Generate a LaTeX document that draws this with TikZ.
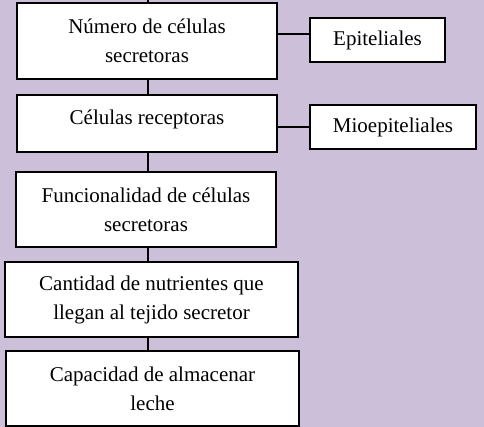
\documentclass[tikz,border=0pt]{standalone}
\usepackage{fontspec}
\setmainfont{Liberation Serif}
\definecolor{lila}{RGB}{204,191,218}

\tikzset{
  caja/.style={draw, fill=white, line width=1.1pt, align=center, inner sep=0pt,
    font=\fontsize{21}{29}\selectfont},
  enlace/.style={line width=1.6pt}
}

\begin{document}
\begin{tikzpicture}[x=1pt, y=-1pt]
            \fill[lila] (0,0) rectangle (484,427);
            \useasboundingbox (0,0) rectangle (484,427);
            \coordinate (eje) at (148,0);

            \node[caja, minimum width=260, minimum height=76] (numero) at (147,41) {Número de células\\secretoras};
            \node[caja, minimum width=135, minimum height=44] (epit) at (377.5,40) {Epiteliales};
            \node[caja, minimum width=260, minimum height=57, text height=15pt, text depth=12pt] (recep) at (147,123.5) {Células receptoras};
            \node[caja, minimum width=166, minimum height=44] (mioep) at (393,127) {Mioepiteliales};
            \node[caja, minimum width=260, minimum height=75] (funcion) at (146,209.5) {Funcionalidad de células\\secretoras};
            \node[caja, minimum width=293, minimum height=75] (nutri) at (151.5,299.5) {Cantidad de nutrientes que\\llegan al tejido secretor};
            \node[caja, minimum width=293, minimum height=75] (almacen) at (152.5,388.5) {Capacidad de almacenar\\leche};

            \draw[enlace] (eje) -- (eje |- numero.north);
            \draw[enlace] (numero.south -| eje) -- (eje |- recep.north);
            \draw[enlace] (recep.south -| eje) -- (eje |- funcion.north);
            \draw[enlace] (funcion.south -| eje) -- (eje |- nutri.north);
            \draw[enlace] (nutri.south -| eje) -- (eje |- almacen.north);
            \draw[enlace] ([yshift=7pt]numero.east) -- ([yshift=7pt]numero.east -| epit.west);
            \draw[enlace] (mioep.west -| recep.east) -- (mioep.west);

        \end{tikzpicture}
\end{document}
